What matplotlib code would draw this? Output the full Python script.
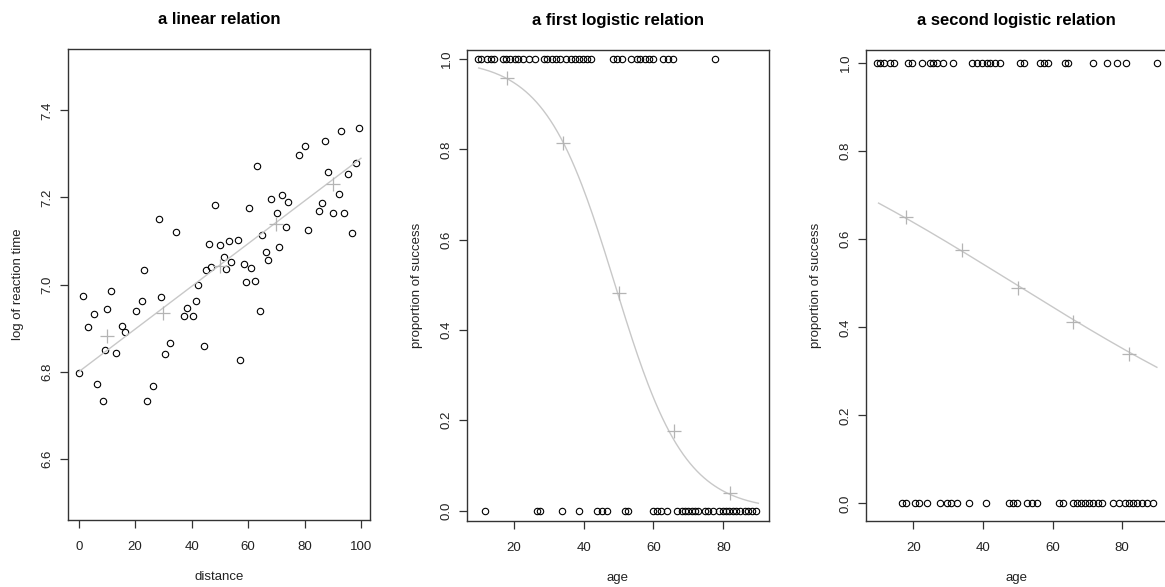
"""
Three small R-style panels: a linear relation and two logistic relations
"""
import numpy as np
import matplotlib
matplotlib.use("Agg")
import matplotlib.pyplot as plt

plt.rcParams["font.family"] = ["Liberation Sans", "DejaVu Sans"]

# panel 1: distance vs log of reaction time
dist = [0.2, 1.5, 3.3, 5.5, 6.4, 8.5, 9.4, 10.2, 11.5, 13.3, 15.5, 16.5, 20.2,
        22.6, 23.3, 24.1, 26.4, 28.3, 29.1, 30.4, 32.2, 34.4, 37.3, 38.4, 40.4,
        41.4, 42.3, 44.4, 45.2, 46.2, 47.0, 48.4, 50.1, 51.5, 52.3, 53.2, 54.1,
        56.3, 57.1, 58.4, 59.4, 60.2, 61.0, 62.4, 63.1, 64.2, 65.0, 66.3, 67.1,
        68.1, 70.3, 71.1, 72.1, 73.4, 74.2, 78.2, 80.2, 81.3, 85.2, 86.1, 87.4,
        88.2, 90.0, 92.2, 92.9, 94.0, 95.3, 96.9, 98.3, 99.2]
logrt = [6.798, 6.974, 6.903, 6.932, 6.772, 6.732, 6.851, 6.943, 6.985, 6.843,
         6.906, 6.891, 6.939, 6.962, 7.034, 6.732, 6.768, 7.150, 6.971, 6.840,
         6.866, 7.120, 6.928, 6.946, 6.928, 6.962, 7.000, 6.860, 7.034, 7.093,
         7.041, 7.182, 7.090, 7.064, 7.036, 7.100, 7.051, 7.102, 6.828, 7.048,
         7.005, 7.176, 7.039, 7.008, 7.272, 6.940, 7.113, 7.076, 7.057, 7.196,
         7.165, 7.087, 7.205, 7.133, 7.190, 7.297, 7.317, 7.125, 7.168, 7.188,
         7.330, 7.259, 7.165, 7.208, 7.353, 7.165, 7.254, 7.119, 7.280, 7.359]
dist_bins = [10, 30, 50, 70, 90]
logrt_means = [6.882, 6.936, 7.042, 7.140, 7.231]
lin_coef = (6.80, 0.0049)  # intercept, slope

# panel 2: first logistic relation (age, success 0/1)
age1_ok = [9.7, 10.6, 12.4, 13.4, 14.4, 16.9, 17.8, 19.0, 20.4, 21.3, 22.8, 24.4,
           26.1, 28.7, 29.6, 30.9, 32.1, 33.2, 35.0, 36.3, 37.5, 38.8, 39.9,
           40.9, 42.0, 48.5, 49.6, 50.9, 53.6, 55.2, 56.1, 57.6, 58.8, 60.0,
           62.8, 64.2, 65.5, 77.6]
age1_fail = [11.9, 26.6, 27.5, 33.8, 38.8, 43.7, 45.2, 46.6, 51.9, 52.8, 60.0,
             60.9, 62.1, 63.8, 66.8, 68.1, 69.0, 70.0, 70.9, 71.9, 72.8, 74.7,
             75.7, 76.9, 78.8, 79.8, 80.7, 81.7, 82.7, 83.6, 84.8, 86.2, 87.1,
             88.1, 89.3]
age_bins = [18, 34, 50, 66, 82]
prop1 = [0.957, 0.815, 0.482, 0.176, 0.040]
logit1_coef = (4.9, -0.100)

# panel 3: second logistic relation
age2_ok = [9.5, 10.4, 11.6, 13.3, 14.5, 18.6, 19.7, 22.4, 24.8, 25.7, 26.7, 28.6,
           31.5, 36.8, 38.2, 39.7, 41.1, 42.0, 43.5, 44.9, 50.7, 51.8, 56.4,
           57.6, 58.8, 63.6, 64.5, 71.5, 75.6, 78.4, 81.1, 89.9]
age2_fail = [16.7, 17.9, 20.5, 21.6, 23.8, 27.7, 29.6, 30.7, 32.6, 36.0, 40.9,
             47.6, 48.7, 49.9, 52.8, 54.0, 55.5, 62.0, 63.1, 65.8, 66.9, 68.1,
             69.3, 70.6, 71.7, 73.2, 74.1, 77.5, 79.2, 80.8, 82.1, 83.2, 84.4,
             85.6, 87.1, 88.8]
prop2 = [0.650, 0.575, 0.490, 0.413, 0.340]
logit2_coef = (0.96, -0.0196)

W, H = 1165, 587
POINT_STYLE = dict(ls="none", marker="o", mfc="none", mec="black", ms=4.6, mew=0.8)
CROSS_STYLE = dict(ls="none", marker="+", color="#b4b4b4", ms=10, mew=0.9)
FIT_COLOR = "#c8c8c8"


def axes_at(fig, left, top, right, bottom):
    """Place axes from pixel edges of the reference image."""
    return fig.add_axes([left / W, 1 - bottom / H, (right - left) / W, (bottom - top) / H])


def r_style(ax, title, xlabel, ylabel):
    for sp in ax.spines.values():
        sp.set_color("#333333")
        sp.set_linewidth(1.0)
    ax.tick_params(axis="both", direction="out", length=6, width=0.9,
                   colors="#333333", labelcolor="#222222", labelsize=9.5)
    ax.tick_params(axis="x", pad=9)
    ax.tick_params(axis="y", pad=4, labelrotation=90)
    for lab in ax.get_yticklabels():
        lab.set_va("center")
    ax.set_title(title, fontsize=12, fontweight="bold", pad=18)
    ax.set_xlabel(xlabel, fontsize=9.5, labelpad=13, color="#222222")
    ax.set_ylabel(ylabel, fontsize=9.5, labelpad=13, color="#222222")


def logistic(x, coef):
    return 1 / (1 + np.exp(-(coef[0] + coef[1] * x)))


def main():
    fig = plt.figure(figsize=(W / 100, H / 100), dpi=100)

    # linear relation
    ax1 = axes_at(fig, 67.7, 49.3, 370, 520)
    ax1.plot(dist, logrt, **POINT_STYLE)
    xs = np.array([0, 100])
    ax1.plot(xs, lin_coef[0] + lin_coef[1] * xs, color=FIT_COLOR, lw=1.0)
    ax1.plot(dist_bins, logrt_means, **CROSS_STYLE)
    ax1.set_xlim(-3.9, 103.2)
    ax1.set_ylim(6.46, 7.54)
    ax1.set_xticks([0, 20, 40, 60, 80, 100])
    ax1.set_yticks([6.6, 6.8, 7.0, 7.2, 7.4])
    r_style(ax1, "a linear relation", "distance", "log of reaction time")

    # first logistic relation
    ax2 = axes_at(fig, 466.7, 50, 769, 521)
    ax2.plot(age1_ok, np.ones(len(age1_ok)), **POINT_STYLE)
    ax2.plot(age1_fail, np.zeros(len(age1_fail)), **POINT_STYLE)
    ages = np.linspace(10, 90, 161)
    ax2.plot(ages, logistic(ages, logit1_coef), color=FIT_COLOR, lw=1.0)
    ax2.plot(age_bins, prop1, **CROSS_STYLE)
    ax2.set_xlim(6.55, 93.05)
    ax2.set_ylim(-0.023, 1.02)
    ax2.set_xticks([20, 40, 60, 80])
    ax2.set_yticks([0, 0.2, 0.4, 0.6, 0.8, 1.0])
    ax2.set_yticklabels(["0.0", "0.2", "0.4", "0.6", "0.8", "1.0"])
    r_style(ax2, "a first logistic relation", "age", "proportion of success")

    # second logistic relation (its right edge runs off the image)
    ax3 = axes_at(fig, 865.7, 50, 1168, 521)
    ax3.plot(age2_ok, np.ones(len(age2_ok)), **POINT_STYLE)
    ax3.plot(age2_fail, np.zeros(len(age2_fail)), **POINT_STYLE)
    ax3.plot(ages, logistic(ages, logit2_coef), color=FIT_COLOR, lw=1.0)
    ax3.plot(age_bins, prop2, **CROSS_STYLE)
    ax3.set_xlim(6.3, 93.2)
    ax3.set_ylim(-0.04, 1.03)
    ax3.set_xticks([20, 40, 60, 80])
    ax3.set_yticks([0, 0.2, 0.4, 0.6, 0.8, 1.0])
    ax3.set_yticklabels(["0.0", "0.2", "0.4", "0.6", "0.8", "1.0"])
    r_style(ax3, "a second logistic relation", "age", "proportion of success")

    fig.savefig("out.png", dpi=100)


if __name__ == "__main__":
    main()
